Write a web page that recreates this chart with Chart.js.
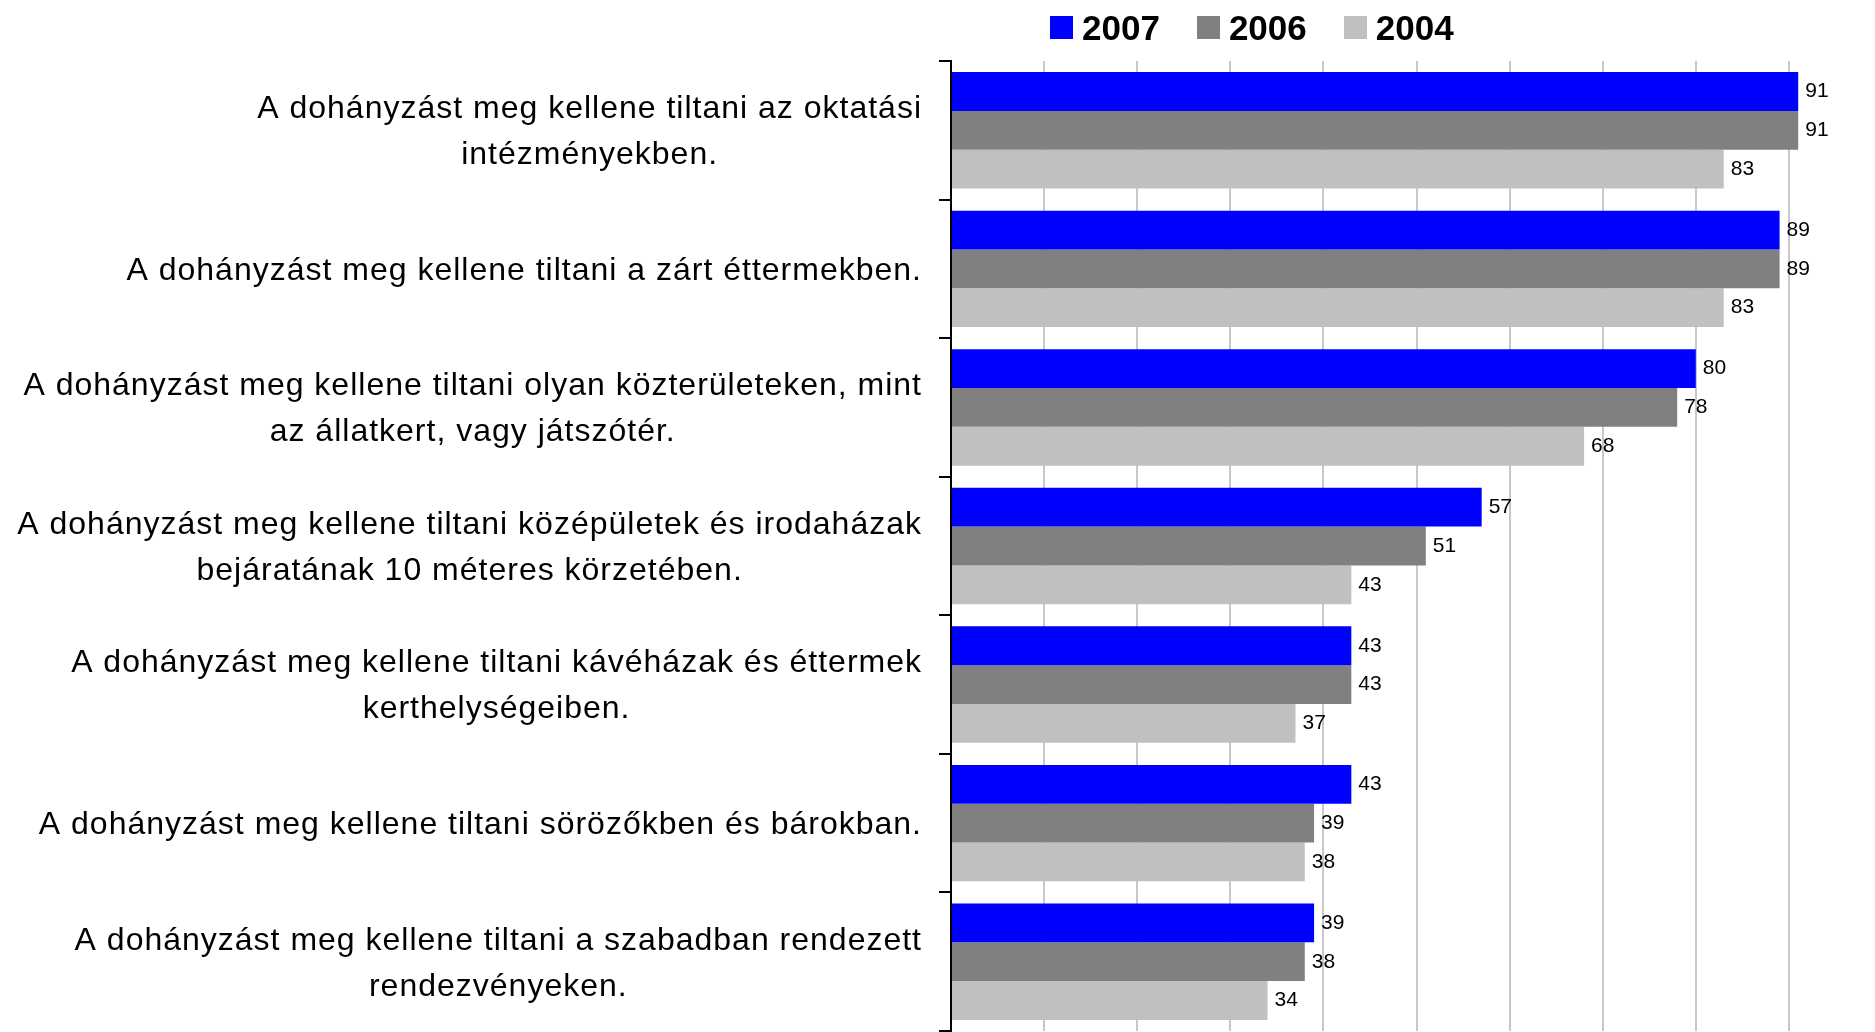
<!DOCTYPE html>
<html>
<head>
<meta charset="utf-8">
<script src="https://cdn.jsdelivr.net/npm/chart.js@4"></script>
<style>
  html, body { margin: 0; padding: 0; background: #fff; overflow: hidden; }
  .wrap { position: relative; width: 1882px; height: 1032px; }
  .legend { position: absolute; left: 1050px; top: 10px; display: flex; align-items: center;
            font: bold 35px "Liberation Sans", Arial, sans-serif; line-height: 35px; color: #000; }
  .legend span.box { display: inline-block; width: 23px; height: 23px; margin-right: 9px; }
  .legend span.txt { margin-right: 37px; }
</style>
</head>
<body>
<div class="wrap">
  <canvas id="myChart"></canvas>
  <div class="legend" id="legend"></div>
</div>
<script>
// category labels (one entry per line)
const categories = [
  ['A dohányzást meg kellene tiltani az oktatási', 'intézményekben.'],
  ['A dohányzást meg kellene tiltani a zárt éttermekben.'],
  ['A dohányzást meg kellene tiltani olyan közterületeken, mint', 'az állatkert, vagy játszótér.'],
  ['A dohányzást meg kellene tiltani középületek és irodaházak', 'bejáratának 10 méteres körzetében.'],
  ['A dohányzást meg kellene tiltani kávéházak és éttermek', 'kerthelységeiben.'],
  ['A dohányzást meg kellene tiltani sörözőkben és bárokban.'],
  ['A dohányzást meg kellene tiltani a szabadban rendezett', 'rendezvényeken.']
];
const seriesNames = ['2007', '2006', '2004'];
const values2007 = [91, 89, 80, 57, 43, 43, 39];
const values2006 = [91, 89, 78, 51, 43, 39, 38];
const values2004 = [83, 83, 68, 43, 37, 38, 34];
const colors = ['#0000FF', '#808080', '#C0C0C0'];

// legend
const legendEl = document.getElementById('legend');
seriesNames.forEach(function(name, i){
  const b = document.createElement('span');
  b.className = 'box';
  b.style.background = colors[i];
  const t = document.createElement('span');
  t.className = 'txt';
  t.textContent = name;
  legendEl.appendChild(b);
  legendEl.appendChild(t);
});

// y labels: block right aligned, lines centered inside the block
const yLabels = {
  id: 'yLabels',
  afterDraw(chart) {
    const ctx = chart.ctx;
    const y = chart.scales.y;
    ctx.save();
    ctx.font = '32px "Liberation Sans", Arial, sans-serif';
    ctx.letterSpacing = '1px';
    ctx.fillStyle = '#000';
    ctx.textAlign = 'center';
    ctx.textBaseline = 'middle';
    const rightEdge = y.right - 29;
    const lineH = 46;
    categories.forEach(function(lines, i){
      const cy = y.getPixelForValue(i) + 2;
      let w = 0;
      lines.forEach(function(l){ w = Math.max(w, ctx.measureText(l).width); });
      const cx = rightEdge - w / 2;
      const top = cy - (lines.length - 1) * lineH / 2;
      lines.forEach(function(l, k){ ctx.fillText(l, cx, top + k * lineH); });
    });
    ctx.restore();
  }
};

// value labels at the end of the bars
const valueLabels = {
  id: 'valueLabels',
  afterDatasetsDraw(chart) {
    const ctx = chart.ctx;
    ctx.save();
    ctx.font = '21px "Liberation Sans", Arial, sans-serif';
    ctx.fillStyle = '#000';
    ctx.textAlign = 'left';
    ctx.textBaseline = 'middle';
    chart.data.datasets.forEach(function(ds, di){
      chart.getDatasetMeta(di).data.forEach(function(bar, i){
        ctx.fillText(String(ds.data[i]), bar.x + 7, bar.y);
      });
    });
    ctx.restore();
  }
};

const ctx = document.getElementById('myChart');
new Chart(ctx, {
  type: 'bar',
  data: {
    labels: categories.map(function(l){ return l.join(' '); }),
    datasets: [
      { label: seriesNames[0], data: values2007, backgroundColor: colors[0] },
      { label: seriesNames[1], data: values2006, backgroundColor: colors[1] },
      { label: seriesNames[2], data: values2004, backgroundColor: colors[2] }
    ]
  },
  options: {
    indexAxis: 'y',
    responsive: true,
    maintainAspectRatio: false,
    animation: false,
    categoryPercentage: 0.84,
    barPercentage: 1.0,
    layout: { padding: { top: 61, right: 0, bottom: 1, left: 0 } },
    plugins: {
      legend: { display: false },
      tooltip: { enabled: false }
    },
    scales: {
      x: {
        min: 0,
        max: 100,
        ticks: { display: false, stepSize: 10 },
        grid: { color: '#C8C8C8', lineWidth: 2, drawTicks: false },
        border: { display: false }
      },
      y: {
        ticks: { display: false },
        grid: { drawOnChartArea: false, drawTicks: true, tickLength: 12, color: '#000', lineWidth: 2 },
        border: { display: true, color: '#000', width: 2 },
        afterFit: function(scale){ scale.width = 951; }
      }
    }
  },
  plugins: [yLabels, valueLabels]
});
</script>
</body>
</html>
